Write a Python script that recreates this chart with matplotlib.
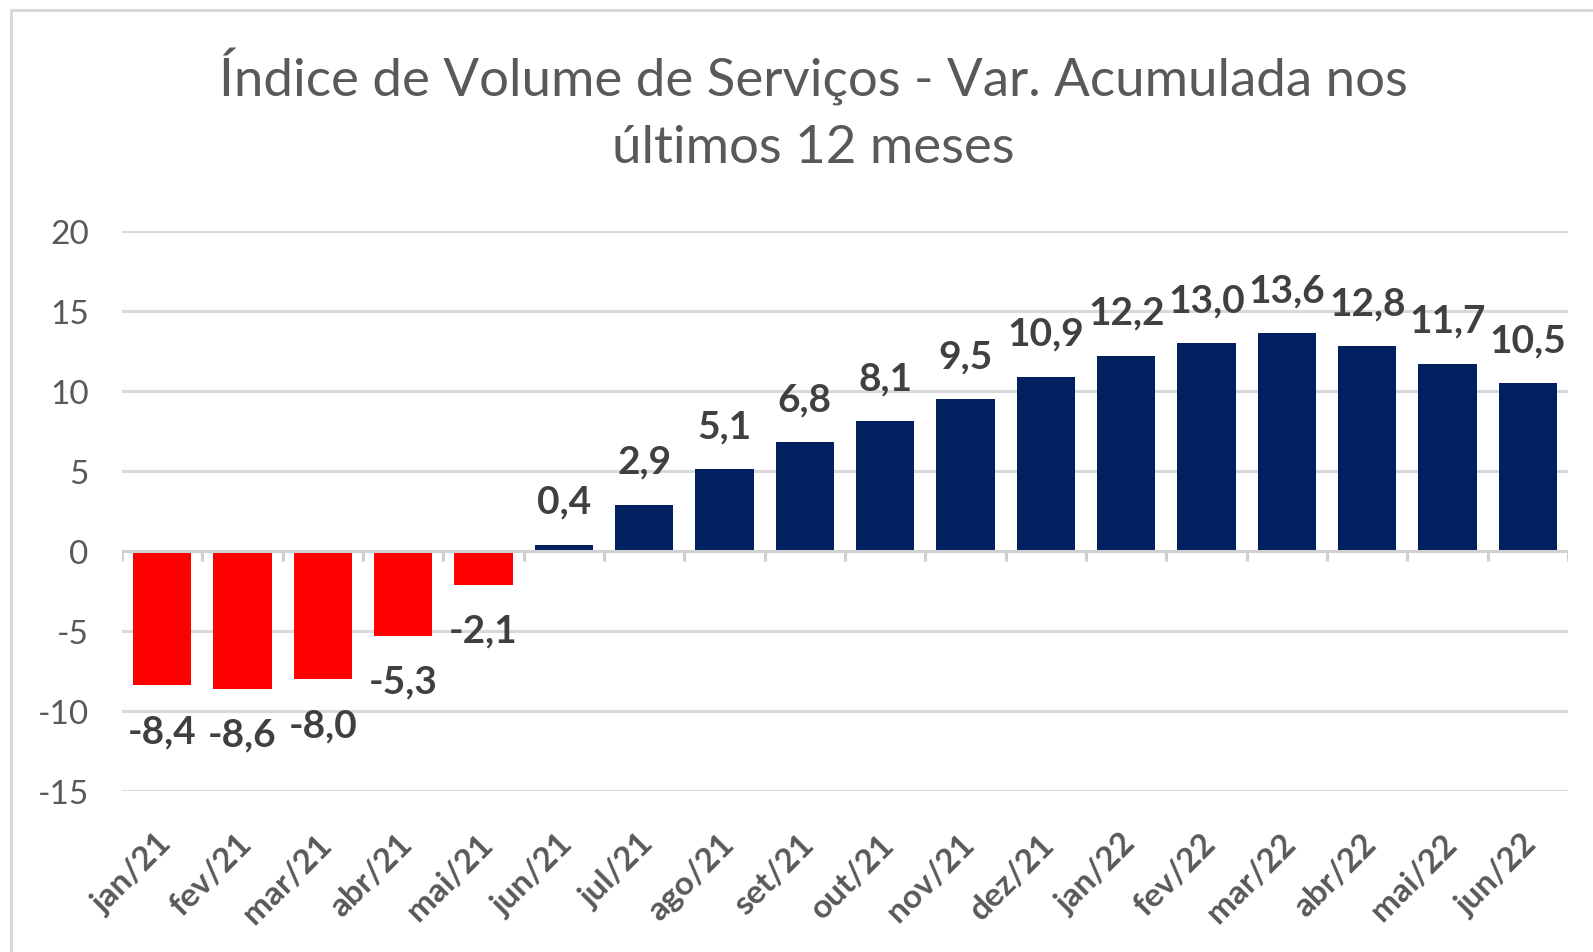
import matplotlib
matplotlib.use("Agg")
import matplotlib.pyplot as plt
import matplotlib.transforms as mtransforms
import numpy as np
from matplotlib.patches import Rectangle

categories = ["jan/21", "fev/21", "mar/21", "abr/21", "mai/21", "jun/21",
              "jul/21", "ago/21", "set/21", "out/21", "nov/21", "dez/21",
              "jan/22", "fev/22", "mar/22", "abr/22", "mai/22", "jun/22"]
values = [-8.4, -8.6, -8.0, -5.3, -2.1, 0.4, 2.9, 5.1, 6.8, 8.1, 9.5, 10.9,
          12.2, 13.0, 13.6, 12.8, 11.7, 10.5]
yticks = [-15, -10, -5, 0, 5, 10, 15, 20]
title_lines = ["Índice de Volume de Serviços - Var. Acumulada nos",
               "últimos 12 meses"]

plt.rcParams['font.family'] = ['Lato', 'DejaVu Sans']

W, H = 1593, 953
fig = plt.figure(figsize=(W / 100, H / 100), dpi=100)
fig.patch.set_facecolor('white')

# chart-area frame (left and top edges visible)
fig.patches.append(Rectangle((11 / W, -0.05), 1.2, 1 - 11 / H + 0.05,
                             transform=fig.transFigure, fill=False,
                             edgecolor='#d9d9d9', linewidth=2.2))

ax = fig.add_axes([122 / W, 1 - 792 / H, (1568 - 122) / W, (792 - 232) / H])
x = np.arange(len(categories))
colors = ['#ff0000' if v < 0 else '#002060' for v in values]
ax.bar(x, values, width=0.73, color=colors, zorder=3)

ax.set_xlim(-0.5, len(categories) - 0.5)
ax.set_ylim(min(yticks), max(yticks))
ax.set_yticks(yticks)
ax.set_yticklabels([str(t) for t in yticks], color='#595959', fontsize=24)
ax.tick_params(axis='y', length=0, pad=24)

for t in yticks:
    if t != 0:
        ax.axhline(t, color='#d9d9d9', linewidth=2.2, zorder=1)
ax.axhline(0, color='#d0d0d0', linewidth=2.2, zorder=4)
bounds = np.arange(len(categories) + 1) - 0.5
ax.vlines(bounds, -0.62, 0, color='#d0d0d0', linewidth=2.2, zorder=4)

for s in ax.spines.values():
    s.set_visible(False)

ax.set_xticks(x)
ax.set_xticklabels(categories, rotation=45, ha='right', va='top',
                   rotation_mode='anchor', color='#595959', fontsize=24,
                   fontweight='bold')
ax.tick_params(axis='x', length=0, pad=24)
shift = mtransforms.ScaledTranslation(-6 / 100, -4 / 100, fig.dpi_scale_trans)
for lab in ax.get_xticklabels():
    lab.set_transform(lab.get_transform() + shift)

for xi, v in zip(x, values):
    lab = f"{v:.1f}".replace('.', ',')
    if v >= 0:
        ax.annotate(lab, (xi, v), xytext=(0, 26), textcoords='offset pixels',
                    ha='center', va='bottom', fontsize=28, fontweight='bold',
                    color='#404040', zorder=5)
    else:
        ax.annotate(lab, (xi, v), xytext=(0, -28), textcoords='offset pixels',
                    ha='center', va='top', fontsize=28, fontweight='bold',
                    color='#404040', zorder=5)

fig.text(813 / W, 1 - 96 / H, title_lines[0], ha='center', va='baseline',
         fontsize=38, color='#595959')
fig.text(813 / W, 1 - 163 / H, title_lines[1], ha='center', va='baseline',
         fontsize=38, color='#595959')

fig.savefig("out.png", dpi=100, facecolor='white')
